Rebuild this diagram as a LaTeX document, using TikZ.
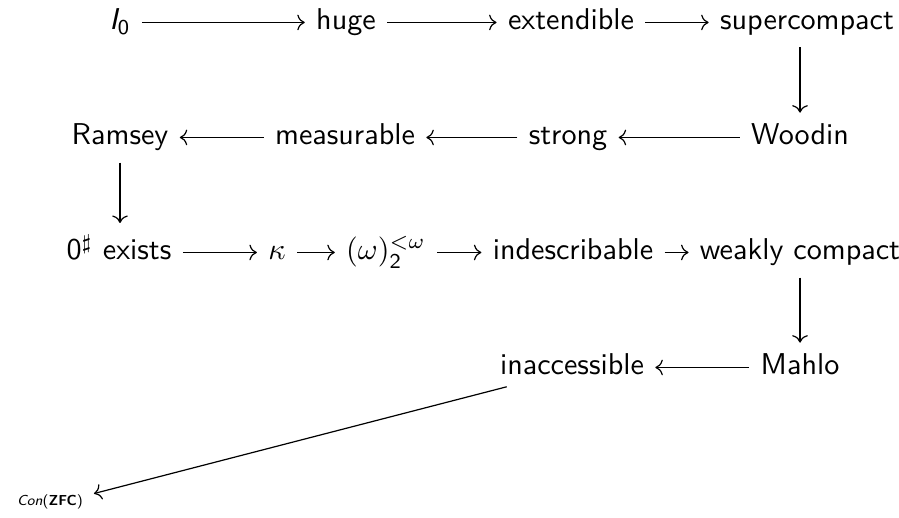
\documentclass[tikz,border=0pt]{standalone}
\usepackage{amsmath}
\usetikzlibrary{arrows.meta}
\begin{document}
\begin{tikzpicture}[x=0.332pt,y=-0.332pt,
  every node/.style={font=\sffamily, anchor=base, inner sep=3.6pt},
  ar/.style={-{Computer Modern Rightarrow}, line width=0.4pt},
  small/.style={font=\sffamily\fontsize{4.8}{5.8}\selectfont, inner sep=1pt}]
\useasboundingbox (0,0) rectangle (899,518);
% row 1
\node (i0)  at (120,30) {$\textsl{I}_{\textsf{0}}$};
\node (hug) at (346,30) {huge};
\node (ext) at (571,30) {extendible};
\node (sup) at (807,30) {supercompact};
% row 2
\node (ram) at (120,145) {Ramsey};
\node (mea) at (345,145) {measurable};
\node (str) at (568,145) {strong};
\node (woo) at (800,145) {Woodin};
% row 3
\node (zer) at (119,260) {\textsf{0}$^\sharp$ exists};
\node (kap) at (277,260) {$\kappa$};
\node (ome) at (386,260) {$(\omega)_{\textsf{2}}^{<\omega}$};
\node (ind) at (573,260) {indescribable};
\node (wea) at (800,260) {weakly compact};
% row 4
\node (ina) at (572,375) {inaccessible};
\node (mah) at (800,375) {Mahlo};
% con
\node[small] (con) at (50,505) {\textsl{Con}(\textbf{ZFC})};
% axis coordinates
\tikzset{ax/.style={yshift=2.5pt}}
\draw[ar] ([ax]i0.base east) -- ([ax]hug.base west);
\draw[ar] ([ax]hug.base east) -- ([ax]ext.base west);
\draw[ar] ([ax]ext.base east) -- ([ax]sup.base west);
\draw[ar] (sup.south -| woo) -- (woo.north);
\draw[ar] ([ax]woo.base west) -- ([ax]str.base east);
\draw[ar] ([ax]str.base west) -- ([ax]mea.base east);
\draw[ar] ([ax]mea.base west) -- ([ax]ram.base east);
\draw[ar] (ram.south) -- (zer.north -| ram);
\draw[ar] ([ax]zer.base east) -- ([ax]kap.base west);
\draw[ar] ([ax]kap.base east) -- ([ax]ome.base west);
\draw[ar] ([ax]ome.base east) -- ([ax]ind.base west);
\draw[ar] ([ax]ind.base east) -- ([ax]wea.base west);
\draw[ar] (wea.south -| mah) -- (mah.north);
\draw[ar] ([ax]mah.base west) -- ([ax]ina.base east);
\draw[ar] ([xshift=6pt]ina.south west) -- ([xshift=2.5pt,yshift=-1pt]con.north east);
\end{tikzpicture}
\end{document}
